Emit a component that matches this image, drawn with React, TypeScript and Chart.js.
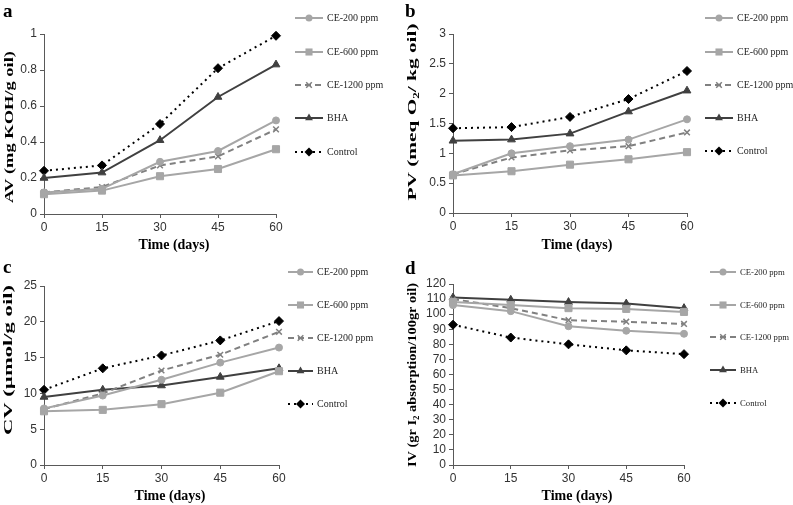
import React, { useEffect, useRef } from 'react';
import { Chart, registerables } from 'chart.js';
Chart.register(...registerables);

// ---------- data ----------
const days = [0, 15, 30, 45, 60];
const seriesNames = ['CE-200 ppm', 'CE-600 ppm', 'CE-1200 ppm', 'BHA', 'Control'];

const avCE200 = [0.12, 0.14, 0.29, 0.35, 0.52];
const avCE600 = [0.11, 0.13, 0.21, 0.25, 0.36];
const avCE1200 = [0.12, 0.15, 0.27, 0.32, 0.47];
const avBHA = [0.2, 0.23, 0.41, 0.65, 0.83];
const avControl = [0.24, 0.27, 0.5, 0.81, 0.99];

const pvCE200 = [0.65, 1.0, 1.12, 1.23, 1.57];
const pvCE600 = [0.63, 0.7, 0.81, 0.9, 1.02];
const pvCE1200 = [0.65, 0.93, 1.05, 1.12, 1.35];
const pvBHA = [1.21, 1.23, 1.33, 1.7, 2.05];
const pvControl = [1.42, 1.44, 1.61, 1.91, 2.38];

const cvCE200 = [7.9, 9.7, 11.9, 14.3, 16.4];
const cvCE600 = [7.5, 7.7, 8.5, 10.1, 13.1];
const cvCE1200 = [7.8, 10.0, 13.2, 15.4, 18.6];
const cvBHA = [9.5, 10.5, 11.1, 12.3, 13.5];
const cvControl = [10.5, 13.5, 15.3, 17.4, 20.1];

const ivCE200 = [106, 102, 92, 89, 87];
const ivCE600 = [108, 106, 104, 103.5, 101.5];
const ivCE1200 = [110, 104, 96, 95, 93.5];
const ivBHA = [111, 109.5, 108, 107, 104];
const ivControl = [93, 84.5, 80, 76, 73.5];

const xTitle = 'Time (days)';

// ---------- styles ----------
type Part = { t: string; sub?: boolean };
const seriesStyles = [
  { color: '#a6a6a6', dash: [] as number[], point: 'circle', r: 3.5 },
  { color: '#a6a6a6', dash: [] as number[], point: 'rect', r: 5 },
  { color: '#808080', dash: [6, 4], point: 'crossRot', r: 4 },
  { color: '#404040', dash: [] as number[], point: 'triangle', r: 4.5 },
  { color: '#000000', dash: [2, 4], point: 'rectRot', r: 4.5 },
];
const axisColor = '#595959';
const tickFont = { family: 'Liberation Sans', size: 12 };
const serif = 'Liberation Serif';

interface PanelCfg {
  letter: string; letterX: number; letterY: number;
  left: number; top: number; width: number; height: number;
  area: { l: number; r: number; t: number; b: number };
  yMax: number; yStep: number;
  yTitle: Part[]; yTitleX: number; yTitleY: number; yTitleLen: number;
  xTitleX: number; xTitleY: number;
  legendX: number; legendLen: number; legendYs: number[]; legendFont: number;
  data: number[][];
}

const panels: PanelCfg[] = [
  {
    letter: 'a', letterX: 3, letterY: 17,
    left: 0, top: 0, width: 396, height: 252,
    area: { l: 44, r: 276, t: 34, b: 214 },
    yMax: 1, yStep: 0.2,
    yTitle: [{ t: 'AV (mg KOH/g oil)' }], yTitleX: 10, yTitleY: 127, yTitleLen: 152,
    xTitleX: 174, xTitleY: 245,
    legendX: 295, legendLen: 28, legendYs: [18, 52, 85, 118, 152], legendFont: 10,
    data: [avCE200, avCE600, avCE1200, avBHA, avControl],
  },
  {
    letter: 'b', letterX: 9, letterY: 17,
    left: 396, top: 0, width: 397, height: 252,
    area: { l: 57, r: 291, t: 34, b: 213 },
    yMax: 3, yStep: 0.5,
    yTitle: [{ t: 'PV (meq O' }, { t: '2', sub: true }, { t: '/ kg oil)' }], yTitleX: 17, yTitleY: 112, yTitleLen: 177,
    xTitleX: 181, xTitleY: 245,
    legendX: 309, legendLen: 28, legendYs: [18, 52, 85, 118, 151], legendFont: 10,
    data: [pvCE200, pvCE600, pvCE1200, pvBHA, pvControl],
  },
  {
    letter: 'c', letterX: 3, letterY: 21,
    left: 0, top: 252, width: 396, height: 253,
    area: { l: 44, r: 279, t: 34, b: 213 },
    yMax: 25, yStep: 5,
    yTitle: [{ t: 'CV (µmol/g oil)' }], yTitleX: 9, yTitleY: 108, yTitleLen: 150,
    xTitleX: 170, xTitleY: 244,
    legendX: 288, legendLen: 25, legendYs: [20, 53, 86, 119, 152], legendFont: 10,
    data: [cvCE200, cvCE600, cvCE1200, cvBHA, cvControl],
  },
  {
    letter: 'd', letterX: 9, letterY: 22,
    left: 396, top: 252, width: 397, height: 253,
    area: { l: 57, r: 288, t: 32, b: 213 },
    yMax: 120, yStep: 10,
    yTitle: [{ t: 'IV (gr I' }, { t: '2', sub: true }, { t: ' absorption/100gr oil)' }], yTitleX: 17, yTitleY: 123, yTitleLen: 184,
    xTitleX: 181, xTitleY: 244,
    legendX: 314, legendLen: 26, legendYs: [20, 53, 85, 118, 151], legendFont: 8.7,
    data: [ivCE200, ivCE600, ivCE1200, ivBHA, ivControl],
  },
];

function drawMarker(ctx: CanvasRenderingContext2D, style: string, x: number, y: number, r: number, color: string) {
  ctx.save();
  ctx.fillStyle = color;
  ctx.strokeStyle = color;
  ctx.lineWidth = 1.5;
  ctx.setLineDash([]);
  ctx.beginPath();
  if (style === 'circle') {
    ctx.arc(x, y, r, 0, Math.PI * 2);
    ctx.fill();
  } else if (style === 'rect') {
    const s = r / Math.SQRT2;
    ctx.rect(x - s, y - s, 2 * s, 2 * s);
    ctx.fill();
  } else if (style === 'rectRot') {
    ctx.moveTo(x, y - r); ctx.lineTo(x + r, y); ctx.lineTo(x, y + r); ctx.lineTo(x - r, y); ctx.closePath();
    ctx.fill();
  } else if (style === 'triangle') {
    let a = 0;
    ctx.moveTo(x + Math.sin(a) * r, y - Math.cos(a) * r);
    a += (2 * Math.PI) / 3;
    ctx.lineTo(x + Math.sin(a) * r, y - Math.cos(a) * r);
    a += (2 * Math.PI) / 3;
    ctx.lineTo(x + Math.sin(a) * r, y - Math.cos(a) * r);
    ctx.closePath();
    ctx.fill();
  } else if (style === 'crossRot') {
    const s = r * Math.SQRT1_2;
    ctx.moveTo(x - s, y - s); ctx.lineTo(x + s, y + s);
    ctx.moveTo(x - s, y + s); ctx.lineTo(x + s, y - s);
    ctx.stroke();
  }
  ctx.restore();
}

function drawParts(ctx: CanvasRenderingContext2D, parts: Part[], size: number, targetLen: number) {
  const subSize = Math.round(size * 0.65);
  let total = 0;
  const widths = parts.map((p) => {
    ctx.font = `bold ${p.sub ? subSize : size}px ${serif}`;
    const w = ctx.measureText(p.t).width;
    total += w;
    return w;
  });
  const s = targetLen > 0 ? targetLen / total : 1;
  ctx.scale(s, 1);
  let x = -total / 2;
  ctx.textBaseline = 'middle';
  ctx.textAlign = 'left';
  parts.forEach((p, i) => {
    ctx.font = `bold ${p.sub ? subSize : size}px ${serif}`;
    ctx.fillText(p.t, x, p.sub ? size * 0.3 : 0);
    x += widths[i];
  });
}

function makeDecor(cfg: PanelCfg) {
  return {
    id: 'decor' + cfg.letter,
    afterDraw(chart: Chart) {
      const ctx = chart.ctx;
      ctx.save();
      ctx.fillStyle = '#000';
      // panel letter
      ctx.font = `bold 19px ${serif}`;
      ctx.textBaseline = 'alphabetic';
      ctx.textAlign = 'left';
      ctx.fillText(cfg.letter, cfg.letterX, cfg.letterY);
      // y title
      ctx.save();
      ctx.translate(cfg.yTitleX, cfg.yTitleY);
      ctx.rotate(-Math.PI / 2);
      drawParts(ctx, cfg.yTitle, 13, cfg.yTitleLen);
      ctx.restore();
      // x title
      ctx.save();
      ctx.translate(cfg.xTitleX, cfg.xTitleY);
      drawParts(ctx, [{ t: xTitle }], 14, 0);
      ctx.restore();
      // legend
      seriesNames.forEach((name, i) => {
        const st = seriesStyles[i];
        const y = cfg.legendYs[i];
        const x0 = cfg.legendX;
        const x1 = x0 + cfg.legendLen;
        ctx.save();
        ctx.strokeStyle = st.color;
        ctx.lineWidth = 2;
        ctx.setLineDash(st.dash);
        ctx.beginPath();
        ctx.moveTo(x0, y);
        ctx.lineTo(x1, y);
        ctx.stroke();
        ctx.restore();
        drawMarker(ctx, st.point, (x0 + x1) / 2, y, st.r, st.color);
        ctx.fillStyle = '#262626';
        ctx.font = `${cfg.legendFont}px ${serif}`;
        ctx.textBaseline = 'middle';
        ctx.textAlign = 'left';
        ctx.fillText(name, x1 + 4, y + 0.5);
      });
      ctx.restore();
    },
  };
}

function Panel({ cfg }: { cfg: PanelCfg }) {
  const ref = useRef<HTMLCanvasElement>(null);
  useEffect(() => {
    const a = cfg.area;
    const chart = new Chart(ref.current as HTMLCanvasElement, {
      type: 'line',
      data: {
        datasets: seriesNames.map((name, i) => {
          const st = seriesStyles[i];
          return {
            label: name,
            data: days.map((d, j) => ({ x: d, y: cfg.data[i][j] })),
            borderColor: st.color,
            backgroundColor: st.color,
            borderWidth: 2,
            borderDash: st.dash,
            pointStyle: st.point as any,
            pointRadius: st.r,
            pointBorderWidth: st.point === 'crossRot' ? 1.5 : 1,
            pointBackgroundColor: st.color,
            pointBorderColor: st.color,
            tension: 0,
            clip: false as any,
          };
        }),
      },
      options: {
        animation: false,
        responsive: false,
        layout: { padding: { top: a.t, right: cfg.width - a.r, left: 0, bottom: 0 } },
        plugins: { legend: { display: false }, tooltip: { enabled: false } },
        scales: {
          x: {
            type: 'linear',
            min: 0,
            max: 60,
            ticks: { stepSize: 15, font: tickFont, color: '#333333', padding: 2, maxRotation: 0, autoSkip: false },
            grid: { display: true, drawOnChartArea: false, drawTicks: true, tickLength: 4, color: axisColor },
            border: { color: axisColor, width: 1 },
            afterFit: (s: any) => { s.height = cfg.height - a.b; },
          },
          y: {
            type: 'linear',
            min: 0,
            max: cfg.yMax,
            ticks: {
              stepSize: cfg.yStep,
              font: tickFont,
              color: '#333333',
              padding: 3,
              autoSkip: false,
              callback: (v: any) => String(Math.round(Number(v) * 100) / 100),
            },
            grid: { display: true, drawOnChartArea: false, drawTicks: true, tickLength: 4, color: axisColor },
            border: { color: axisColor, width: 1 },
            afterFit: (s: any) => { s.width = a.l; },
          },
        },
      },
      plugins: [makeDecor(cfg)],
    });
    return () => chart.destroy();
  }, [cfg]);
  return (
    <canvas
      ref={ref}
      width={cfg.width}
      height={cfg.height}
      style={{ position: 'absolute', left: cfg.left, top: cfg.top, width: cfg.width, height: cfg.height, display: 'block' }}
    />
  );
}

export default function App() {
  return (
    <div style={{ position: 'absolute', left: 0, top: 0, width: 793, height: 505, background: '#fff' }}>
      {panels.map((p) => (
        <Panel key={p.letter} cfg={p} />
      ))}
    </div>
  );
}
